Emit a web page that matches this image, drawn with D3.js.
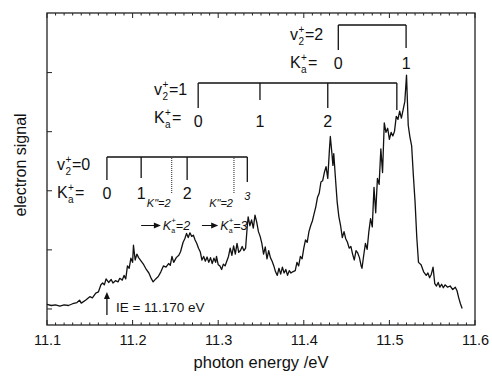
<!DOCTYPE html>
<html>
<head>
<meta charset="utf-8">
<script src="https://cdn.jsdelivr.net/npm/d3@7"></script>
<style>
  body { margin: 0; background: #fff; }
  text { font-family: Arial, "Liberation Sans", sans-serif; fill: #111; }
</style>
</head>
<body>
<script>
// spectrum: photon energy (eV) and electron signal (arb. units)
var energy = [11.100,11.105,11.110,11.115,11.120,11.125,11.130,11.135,11.138,11.140,11.145,11.150,11.153,11.157,11.160,11.163,11.165,11.167,11.169,11.172,11.175,11.177,11.180,11.183,11.185,11.188,11.190,11.192,11.194,11.196,11.198,11.200,11.201,11.203,11.205,11.207,11.210,11.213,11.216,11.219,11.222,11.224,11.227,11.230,11.233,11.236,11.239,11.242,11.244,11.246,11.248,11.251,11.254,11.256,11.259,11.261,11.263,11.265,11.267,11.269,11.271,11.273,11.275,11.277,11.279,11.281,11.283,11.285,11.287,11.289,11.291,11.293,11.295,11.297,11.298,11.300,11.302,11.304,11.306,11.308,11.310,11.312,11.314,11.316,11.318,11.320,11.322,11.324,11.326,11.328,11.330,11.332,11.334,11.335,11.337,11.339,11.341,11.343,11.345,11.347,11.349,11.351,11.353,11.355,11.357,11.359,11.361,11.363,11.365,11.367,11.369,11.371,11.373,11.375,11.377,11.379,11.381,11.383,11.385,11.387,11.390,11.392,11.394,11.396,11.398,11.400,11.402,11.404,11.406,11.408,11.410,11.412,11.414,11.416,11.418,11.420,11.422,11.424,11.426,11.428,11.430,11.431,11.433,11.434,11.435,11.437,11.439,11.441,11.443,11.445,11.447,11.449,11.451,11.453,11.455,11.457,11.459,11.461,11.463,11.465,11.467,11.468,11.470,11.472,11.474,11.476,11.478,11.480,11.482,11.484,11.486,11.488,11.490,11.492,11.494,11.496,11.498,11.500,11.502,11.504,11.506,11.508,11.510,11.512,11.514,11.516,11.518,11.520,11.522,11.524,11.526,11.528,11.530,11.532,11.534,11.537,11.540,11.543,11.545,11.547,11.549,11.551,11.553,11.555,11.557,11.559,11.561,11.563,11.565,11.568,11.571,11.574,11.577,11.579,11.581,11.583,11.585];
var signal = [0.07,0.05,0.06,0.04,0.06,0.05,0.08,0.10,0.14,0.09,0.14,0.20,0.18,0.26,0.28,0.40,0.43,0.40,0.50,0.44,0.49,0.43,0.47,0.45,0.51,0.48,0.56,0.50,0.72,0.68,0.85,0.78,1.07,0.82,0.92,0.86,0.80,0.74,0.66,0.60,0.50,0.45,0.50,0.54,0.62,0.72,0.70,0.76,0.73,0.88,0.78,0.86,0.90,0.96,1.12,1.18,1.27,1.20,1.28,1.22,1.24,1.16,1.10,1.02,0.96,0.82,0.88,0.80,0.87,0.78,0.86,0.76,0.85,0.78,0.88,0.74,0.72,0.66,0.75,0.72,0.80,0.88,1.02,0.90,1.06,0.92,1.10,0.95,0.98,1.05,0.98,1.02,1.40,1.55,1.40,1.50,1.36,1.58,1.46,1.30,1.22,1.10,0.92,1.04,0.84,0.98,0.86,0.80,0.72,0.62,0.56,0.68,0.58,0.70,0.60,0.66,0.56,0.64,0.60,0.62,0.64,0.78,0.72,0.88,0.84,1.02,1.16,1.12,1.30,1.40,1.48,1.60,1.72,1.88,1.95,2.14,2.16,2.30,2.40,2.20,2.70,2.91,2.60,2.42,2.62,2.20,1.80,1.55,1.40,1.20,1.30,1.18,1.12,1.02,1.05,0.92,0.82,0.98,0.94,0.86,0.72,0.68,0.90,1.10,1.00,1.30,1.52,1.38,2.05,1.62,2.20,2.10,2.70,2.30,3.14,2.98,3.05,2.86,2.98,2.92,3.00,3.25,3.20,3.34,3.22,3.36,3.50,3.95,3.10,2.90,2.75,2.25,1.80,1.20,0.78,0.74,0.62,0.56,0.60,0.52,0.58,0.70,0.42,0.38,0.44,0.36,0.41,0.35,0.40,0.36,0.38,0.32,0.36,0.30,0.18,0.08,0.00];

// x tick labels
var xTicks = [11.1, 11.2, 11.3, 11.4, 11.5, 11.6];

// K_a+ level positions (eV) for each v2+ progression
var levelsV0 = [11.1700, 11.2100, 11.2637, 11.3340];
var labelsV0 = ["0", "1", "2", "3"];
var levelsV1 = [11.2766, 11.3488, 11.4280, 11.5087];
var labelsV1 = ["0", "1", "2", ""];
var levelsV2 = [11.4403, 11.5195];
var labelsV2 = ["0", "1"];
// dotted K"=2 lines
var dottedLines = [11.2456, 11.3184];
var ionEnergy = 11.170;

var svgWidth = 492, svgHeight = 378;
var margin = { top: 13, right: 17, bottom: 53, left: 47 };
var chartWidth = svgWidth - margin.left - margin.right;
var chartHeight = svgHeight - margin.top - margin.bottom;

var svg = d3.select("body").append("svg")
  .attr("width", svgWidth)
  .attr("height", svgHeight);

var chartGroup = svg.append("g")
  .attr("transform", `translate(${margin.left}, ${margin.top})`);

var xScale = d3.scaleLinear().domain([11.1, 11.6]).range([0, chartWidth]);
var yScale = d3.scaleLinear().domain([-0.28, 5.0]).range([chartHeight, 0]);

// minor ticks every 0.01, major every 0.1, all pointing inward
var minorTicks = d3.range(0, 51).map(i => 11.1 + i * 0.01);

var bottomAxis = d3.axisBottom(xScale).tickValues(xTicks).tickSize(0).tickPadding(10)
  .tickFormat(d3.format(".1f"));
chartGroup.append("g")
  .attr("transform", `translate(0, ${chartHeight})`)
  .call(bottomAxis)
  .call(g => g.select(".domain").remove())
  .selectAll("text")
  .style("font-size", "14.5px")
  .style("font-family", "Arial, 'Liberation Sans', sans-serif")
  .attr("fill", "#111");

function tickLines(g, yBase, dir) {
  g.selectAll("line.t")
    .data(minorTicks)
    .enter()
    .append("line")
    .attr("x1", d => xScale(d))
    .attr("x2", d => xScale(d))
    .attr("y1", yBase)
    .attr("y2", (d, i) => yBase + dir * (i % 10 === 0 ? 5 : 2.5))
    .attr("stroke", "#222")
    .attr("stroke-width", 1);
}
tickLines(chartGroup.append("g"), chartHeight, -1);
tickLines(chartGroup.append("g"), 0, 1);

// left axis ticks (no labels)
var leftAxis = d3.axisLeft(yScale).tickValues([0, 1, 2, 3, 4]).tickSize(-5).tickFormat("");
chartGroup.append("g")
  .call(leftAxis)
  .call(g => g.select(".domain").remove())
  .selectAll("line").attr("stroke", "#222");

// frame
chartGroup.append("rect")
  .attr("width", chartWidth)
  .attr("height", chartHeight)
  .attr("fill", "none")
  .attr("stroke", "#222")
  .attr("stroke-width", 1.3);

// spectrum
var line = d3.line()
  .x((d, i) => xScale(energy[i]))
  .y(d => yScale(d));

chartGroup.append("path")
  .datum(signal)
  .attr("d", line)
  .attr("fill", "none")
  .attr("stroke", "#111")
  .attr("stroke-width", 1.3)
  .attr("stroke-linejoin", "round");

// v2+ / Ka+ label block
function stateLabel(x, yTop, vVal) {
  var g = chartGroup.append("g");
  g.append("text").attr("x", x).attr("y", yTop).style("font-size", "16px").text("v");
  g.append("text").attr("x", x + 8.5).attr("y", yTop - 7).style("font-size", "10px").text("+");
  g.append("text").attr("x", x + 8.5).attr("y", yTop + 5).style("font-size", "10px").text("2");
  g.append("text").attr("x", x + 15).attr("y", yTop).style("font-size", "16px").text("=" + vVal);
  var yK = yTop + 28;
  g.append("text").attr("x", x).attr("y", yK).style("font-size", "16px").text("K");
  g.append("text").attr("x", x + 11).attr("y", yK - 7).style("font-size", "10px").text("+");
  g.append("text").attr("x", x + 11).attr("y", yK + 5).style("font-size", "10px").text("a");
  g.append("text").attr("x", x + 18).attr("y", yK).style("font-size", "16px").text("=");
}

function bracket(levels, labels, yBar, drops, labelY) {
  var g = chartGroup.append("g");
  g.append("line")
    .attr("x1", xScale(levels[0])).attr("x2", xScale(levels[levels.length - 1]))
    .attr("y1", yBar).attr("y2", yBar)
    .attr("stroke", "#111").attr("stroke-width", 1.3);
  g.selectAll("line.v")
    .data(levels)
    .enter()
    .append("line")
    .attr("x1", d => xScale(d)).attr("x2", d => xScale(d))
    .attr("y1", yBar).attr("y2", (d, i) => yBar + drops[i])
    .attr("stroke", "#111").attr("stroke-width", 1.3);
  g.selectAll("text")
    .data(levels)
    .enter()
    .append("text")
    .attr("x", d => xScale(d))
    .attr("y", labelY)
    .attr("text-anchor", "middle")
    .style("font-size", (d, i) => labels[i] === "3" ? "11px" : "16px")
    .style("font-style", (d, i) => labels[i] === "3" ? "italic" : "normal")
    .attr("dy", (d, i) => labels[i] === "3" ? 1 : 0)
    .text((d, i) => labels[i]);
}

// v2+=2
stateLabel(243, 27, "2");
bracket(levelsV2, labelsV2, 12, [25, 23], 56);

// v2+=1
stateLabel(107, 82, "1");
bracket(levelsV1, labelsV1, 70, [25, 17, 25, 27], 114);

// v2+=0
stateLabel(10, 157, "0");
bracket(levelsV0, labelsV0, 144, [23, 21, 23, 25], 186);

// dotted K"=2 markers
chartGroup.selectAll("line.dot")
  .data(dottedLines)
  .enter()
  .append("line")
  .attr("x1", d => xScale(d)).attr("x2", d => xScale(d))
  .attr("y1", 145).attr("y2", 180)
  .attr("stroke", "#555").attr("stroke-width", 1.3)
  .attr("stroke-dasharray", "1,1");

chartGroup.selectAll("text.kpp")
  .data(dottedLines)
  .enter()
  .append("text")
  .attr("x", d => xScale(d) - 1)
  .attr("y", 194)
  .attr("text-anchor", "end")
  .style("font-size", "11px")
  .style("font-style", "italic")
  .text('K"=2');

// arrows -> Ka+=2, Ka+=3
var arrowTargets = [["2", 11.2100, 11.2330], ["3", 11.2810, 11.3000]];
arrowTargets.forEach(function(a) {
  var x1 = xScale(a[1]), x2 = xScale(a[2]), y = 212.5;
  chartGroup.append("line")
    .attr("x1", x1).attr("x2", x2 - 5).attr("y1", y).attr("y2", y)
    .attr("stroke", "#111").attr("stroke-width", 1);
  chartGroup.append("path")
    .attr("d", `M${x2},${y} L${x2 - 7},${y - 3} L${x2 - 7},${y + 3} Z`)
    .attr("fill", "#111");
  chartGroup.append("text").attr("x", x2 + 2).attr("y", y + 4.5)
    .style("font-size", "12.5px").style("font-style", "italic").text("K");
  chartGroup.append("text").attr("x", x2 + 10.5).attr("y", y - 3)
    .style("font-size", "8px").text("+");
  chartGroup.append("text").attr("x", x2 + 10.5).attr("y", y + 7)
    .style("font-size", "7px").text("a");
  chartGroup.append("text").attr("x", x2 + 15).attr("y", y + 4.5)
    .style("font-size", "12.5px").style("font-style", "italic").text("=" + a[0]);
});

// IE arrow
var ieX = xScale(ionEnergy);
chartGroup.append("line")
  .attr("x1", ieX).attr("x2", ieX)
  .attr("y1", chartHeight - 10).attr("y2", chartHeight - 28)
  .attr("stroke", "#111").attr("stroke-width", 1.3);
chartGroup.append("path")
  .attr("d", `M${ieX},${chartHeight - 33} L${ieX - 3},${chartHeight - 26} L${ieX + 3},${chartHeight - 26} Z`)
  .attr("fill", "#111");
chartGroup.append("text")
  .attr("x", ieX + 9).attr("y", chartHeight - 13)
  .style("font-size", "13.5px")
  .text("IE = 11.170 eV");

// axis titles
svg.append("text")
  .attr("x", margin.left + chartWidth / 2)
  .attr("y", 368)
  .attr("text-anchor", "middle")
  .style("font-size", "16.5px")
  .text("photon energy /eV");

svg.append("text")
  .attr("transform", `translate(26, 165) rotate(-90)`)
  .attr("text-anchor", "middle")
  .style("font-size", "16px")
  .text("electron signal");
</script>
</body>
</html>
